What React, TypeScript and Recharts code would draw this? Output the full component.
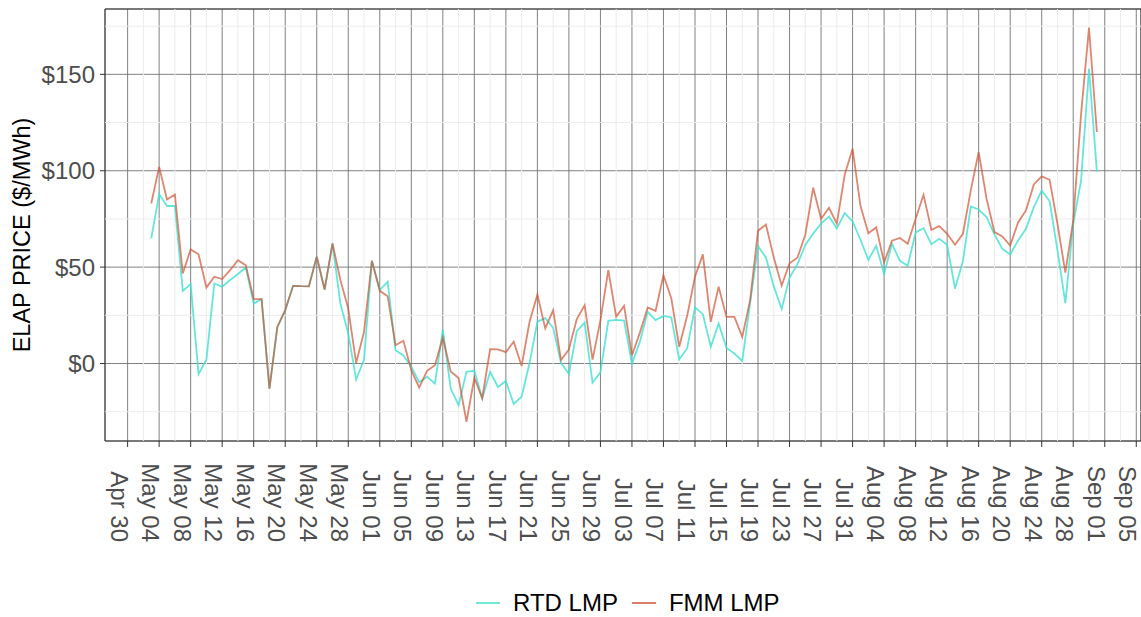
import { LineChart, Line, XAxis, YAxis, CartesianGrid, ReferenceLine, ReferenceArea } from "recharts";

// days counted from Apr 30; first observation is May 03
const firstDay = 3;

const tickLabels = [
  "Apr 30", "May 04", "May 08", "May 12", "May 16", "May 20", "May 24", "May 28",
  "Jun 01", "Jun 05", "Jun 09", "Jun 13", "Jun 17", "Jun 21", "Jun 25", "Jun 29",
  "Jul 03", "Jul 07", "Jul 11", "Jul 15", "Jul 19", "Jul 23", "Jul 27", "Jul 31",
  "Aug 04", "Aug 08", "Aug 12", "Aug 16", "Aug 20", "Aug 24", "Aug 28", "Sep 01", "Sep 05",
];
const tickDays = tickLabels.map((_, i) => i * 4);
const minorDays = tickLabels.slice(0, -1).map((_, i) => i * 4 + 2);

const yTicks = [0, 50, 100, 150];
const yMinor = [-25, 25, 75, 125, 175];

const rtdLmp = [
  64.9, 87.9, 81.7, 81.8, 37.7, 41.2, -5.5, 2.1, 41.5, 39.8,
  43.3, 46.4, 49.8, 31.1, 33.4, -13, 19, 27.7, 40.3, 40.1,
  40, 55.4, 38.4, 62.3, 31.1, 15.6, -8.3, 2.1, 53.3, 38.1,
  42.4, 6.9, 4.2, -1.7, -9.7, -6.9, -10.4, 17.6, -13, -21.6,
  -4.3, -3.8, -18, -4.3, -12.2, -9.1, -21, -17.2, 0.1, 21.7,
  23.5, 18.5, 0.3, -5.4, 16.8, 21.2, -10, -4.6, 22.1, 22.6,
  22.3, 0, 11.2, 26.8, 22.5, 24.7, 23.9, 2.1, 7.8, 29.1,
  25.6, 8.7, 20.8, 8.1, 5.2, 1.4, 31.5, 60.9, 55, 40,
  28.3, 44.6, 51.4, 61.5, 67.4, 72.6, 76.2, 70.1, 78, 73.7,
  64.2, 53.8, 61.1, 46.5, 62.1, 53.3, 50.7, 68, 70.2, 61.9,
  64.7, 61.6, 38.8, 53.1, 81.5, 79.9, 76, 67, 59.5, 56.6,
  63.8, 69.9, 81.1, 89.8, 84.3, 58.7, 31.3, 72.5, 95, 152.9,
  99.7,
];

const fmmLmp = [
  83, 102, 85.1, 87.7, 46.7, 59.2, 56.7, 39.4, 45, 43.8,
  48.4, 53.6, 51, 33.4, 33.4, -13, 19, 27.7, 40.3, 40.1,
  40, 55.4, 38.4, 62.3, 43.3, 28.5, 0.3, 16.4, 53.3, 37.7,
  34.9, 9.5, 11.8, -3.5, -12.5, -3.8, -0.9, 13.4, -4.1, -7.5,
  -30.2, -7.4, -18, 7.4, 7.3, 5.9, 11.3, -1.3, 21.5, 35.7,
  18.2, 27.6, 1.8, 7.3, 23, 30.2, 2, 22.4, 48.4, 24.3,
  29.9, 4.3, 15.9, 29.1, 27.3, 45.8, 33.7, 8.7, 24.6, 45,
  56.6, 21.6, 39.8, 24.2, 24.2, 13.8, 32.9, 68.9, 72.1, 55,
  40.4, 52, 54.9, 66.8, 91.2, 75, 80.8, 72.6, 97.9, 111.4,
  81.8, 67.6, 70.6, 52.4, 63.7, 65.1, 62.1, 75.1, 87.5, 69.3,
  71.3, 67.3, 61.6, 67.3, 89.8, 109.7, 85.5, 68.2, 65.9, 61.2,
  73.2, 79.4, 92.9, 97.1, 95.3, 72.5, 47.1, 74.2, 129.6, 174.2,
  120.1,
];

const data = rtdLmp.map((v, i) => ({ day: firstDay + i, rtd: v, fmm: fmmLmp[i] }));

const X_DOMAIN: [number, number] = [-2.87, 128.6];
const Y_DOMAIN: [number, number] = [-40.2, 183.9];

const FONT = "'Liberation Sans', Arial, Helvetica, sans-serif";
const RTD_COLOR = "#40E0D0";
const FMM_COLOR = "#CC5434";

function XTick({ x, y, payload }: any) {
  const i = tickDays.indexOf(payload.value);
  const ax = x - 17;
  const ay = y + 93;
  return (
    <text
      x={ax}
      y={ay}
      transform={`rotate(90, ${ax}, ${ay})`}
      textAnchor="end"
      fill="#4d4d4d"
      fontSize={24}
      fontFamily={FONT}
    >
      {tickLabels[i]}
    </text>
  );
}

function YTitle({ viewBox }: any) {
  const cx = 22;
  const cy = viewBox.y + viewBox.height / 2 + 10;
  return (
    <text
      x={cx}
      y={cy}
      transform={`rotate(-90, ${cx}, ${cy})`}
      textAnchor="middle"
      dominantBaseline="central"
      fill="#000"
      fontSize={23.5}
      fontFamily={FONT}
    >
      ELAP PRICE ($/MWh)
    </text>
  );
}

function LegendItem({ color, label }: { color: string; label: string }) {
  return (
    <span style={{ display: "flex", alignItems: "center" }}>
      <span
        style={{ width: 24, height: 2, background: color, opacity: 0.75, display: "inline-block", marginRight: 13 }}
      />
      <span>{label}</span>
    </span>
  );
}

export default function App() {
  return (
    <div style={{ position: "absolute", left: 0, top: 0, width: 1141, height: 617, background: "#fff", fontFamily: FONT }}>
      <LineChart width={1141} height={617} data={data} margin={{ top: 9, right: 0, bottom: 0, left: 0 }}>
        <CartesianGrid stroke="#737373" strokeWidth={0.9} />
        {minorDays.map((d) => (
          <ReferenceLine key={`mx${d}`} x={d} stroke="#ececec" strokeWidth={1} />
        ))}
        {yMinor.map((v) => (
          <ReferenceLine key={`my${v}`} y={v} stroke="#ececec" strokeWidth={1} ifOverflow="discard" />
        ))}
        <XAxis
          type="number"
          dataKey="day"
          domain={X_DOMAIN}
          allowDataOverflow
          ticks={tickDays}
          interval={0}
          height={176}
          tickSize={6}
          tickMargin={2}
          axisLine={false}
          tickLine={{ stroke: "#333" }}
          tick={<XTick />}
        />
        <YAxis
          type="number"
          domain={Y_DOMAIN}
          allowDataOverflow
          ticks={yTicks}
          width={105}
          tickSize={5}
          tickMargin={5}
          axisLine={false}
          tickLine={{ stroke: "#333" }}
          tickFormatter={(v: number) => `$${v}`}
          tick={{ fill: "#4d4d4d", fontSize: 24, fontFamily: FONT }}
          label={{ content: (p: any) => <YTitle {...p} /> }}
        />
        <ReferenceArea
          x1={X_DOMAIN[0]}
          x2={X_DOMAIN[1]}
          y1={Y_DOMAIN[0]}
          y2={Y_DOMAIN[1]}
          fill="none"
          stroke="#333"
          strokeWidth={1}
        />
        <Line
          type="linear"
          dataKey="rtd"
          stroke={RTD_COLOR}
          strokeOpacity={0.8}
          strokeWidth={1.8}
          dot={false}
          isAnimationActive={false}
        />
        <Line
          type="linear"
          dataKey="fmm"
          stroke={FMM_COLOR}
          strokeOpacity={0.7}
          strokeWidth={1.8}
          dot={false}
          isAnimationActive={false}
        />
      </LineChart>
      <div
        style={{
          position: "absolute",
          left: 476,
          top: 589,
          display: "flex",
          gap: 14,
          fontSize: 24,
          lineHeight: "28px",
          color: "#000",
        }}
      >
        <LegendItem color={RTD_COLOR} label="RTD LMP" />
        <LegendItem color={FMM_COLOR} label="FMM LMP" />
      </div>
    </div>
  );
}
